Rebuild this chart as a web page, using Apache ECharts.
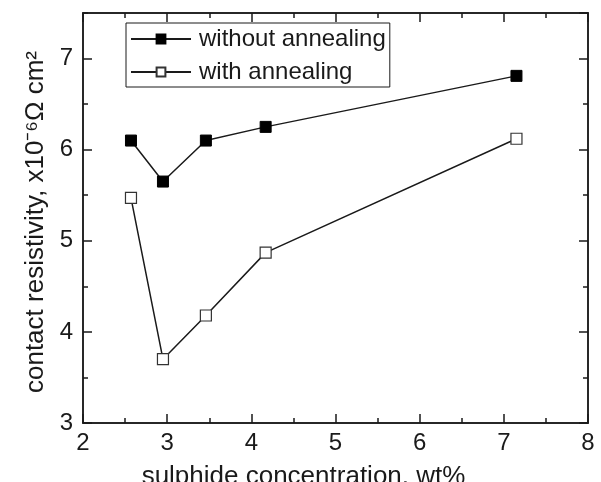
<!DOCTYPE html>
<html>
<head>
<meta charset="utf-8">
<script src="https://cdn.jsdelivr.net/npm/echarts@6/dist/echarts.min.js"></script>
<style>
  html, body { margin: 0; padding: 0; background: #fff; }
  #chart { width: 601px; height: 482px; }
</style>
</head>
<body>
<div id="chart"></div>
<script>
// sulphide concentration (wt%)
const concentration = [2.57, 2.95, 3.46, 4.17, 7.15]
// contact resistivity, x10^-6 ohm cm^2
const withoutAnnealing = [6.1, 5.65, 6.1, 6.25, 6.81]
const withAnnealing = [5.47, 3.7, 4.18, 4.87, 6.12]

const seriesNames = ['without annealing', 'with annealing']

const ink = '#1a1a1a'
const font = 'Liberation Sans'

const pairs = ys => concentration.map((x, i) => [x, ys[i]])

// 主刻度 / 次刻度 用兩條重疊的軸畫，刻度朝內
function makeAxis(pos, min, max, interval, tickLen, withLabel, extra) {
  return Object.assign({
    type: 'value',
    position: pos,
    min: min,
    max: max,
    interval: interval,
    axisLine: { show: true, onZero: false, lineStyle: { color: ink, width: 1.5 } },
    axisTick: { show: true, inside: true, length: tickLen, lineStyle: { color: ink, width: 1.5 } },
    axisLabel: withLabel
      ? { show: true, color: ink, fontSize: 24, fontFamily: font, margin: pos === 'left' ? 10 : 8, showMaxLabel: pos !== 'left' }
      : { show: false },
    splitLine: { show: false }
  }, extra || {})
}

const chart = echarts.init(document.getElementById('chart'))

chart.setOption({
  backgroundColor: '#fff',
  animation: false,
  // 不讓座標軸名稱把繪圖區擠小
  grid: { left: 83, right: 13, top: 13, bottom: 59, outerBoundsMode: 'none', containLabel: false },
  xAxis: [
    makeAxis('bottom', 2, 8, 1, 9, true, {
      name: 'sulphide concentration, wt%',
      nameLocation: 'middle',
      nameGap: 41,
      nameTextStyle: { color: ink, fontSize: 26, fontFamily: font, padding: [0, 64, 0, 0] }
    }),
    makeAxis('bottom', 2, 8, 0.5, 5, false),
    makeAxis('top', 2, 8, 1, 9, false),
    makeAxis('top', 2, 8, 0.5, 5, false)
  ],
  yAxis: [
    makeAxis('left', 3, 7.5, 1, 9, true, {
      name: 'contact resistivity, x10\u207B\u2076\u03A9 cm\u00B2',
      nameLocation: 'middle',
      nameGap: 28,
      nameTextStyle: { color: ink, fontSize: 26, fontFamily: font, padding: [0, 8, 0, 0] }
    }),
    makeAxis('left', 3, 7.5, 0.5, 5, false),
    makeAxis('right', 3, 7.5, 1, 9, false),
    makeAxis('right', 3, 7.5, 0.5, 5, false)
  ],
  legend: {
    orient: 'vertical',
    left: 126,
    top: 23,
    padding: [4, 4, 3, 4],
    itemGap: 9,
    itemWidth: 60,
    itemHeight: 11,
    borderColor: ink,
    borderWidth: 1,
    textStyle: { color: ink, fontSize: 24, fontFamily: font, padding: [0, 0, 0, 3] },
    data: seriesNames
  },
  series: [
    {
      name: seriesNames[0],
      type: 'line',
      data: pairs(withoutAnnealing),
      symbol: 'rect',
      symbolSize: 11,
      lineStyle: { color: ink, width: 1.5 },
      itemStyle: { color: '#000', borderColor: '#000', borderWidth: 1 }
    },
    {
      name: seriesNames[1],
      type: 'line',
      data: pairs(withAnnealing),
      symbol: 'rect',
      symbolSize: 11,
      lineStyle: { color: ink, width: 1.5 },
      itemStyle: { color: '#fff', borderColor: '#333', borderWidth: 1.2 }
    }
  ]
})
</script>
</body>
</html>
